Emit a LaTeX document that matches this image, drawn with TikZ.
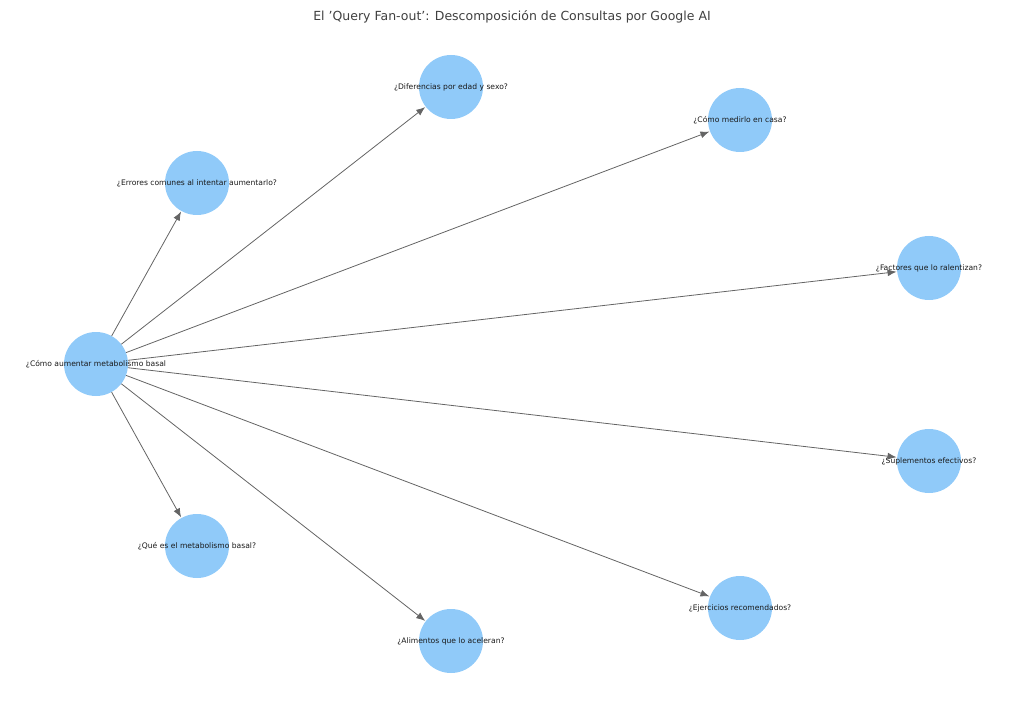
\documentclass[tikz,border=0pt]{standalone}
\usepackage{fontspec}
\setmainfont{DejaVu Sans}
\usetikzlibrary{arrows.meta}
\definecolor{lb}{RGB}{144,202,249}
\definecolor{eg}{RGB}{100,100,100}
\tikzset{q/.style={circle, fill=lb, minimum size=64pt, inner sep=0pt},
  lbl/.style={font=\fontsize{7.6}{9}\selectfont, text=black!90},
  edge/.style={draw=eg, line width=0.8pt, -{Latex[length=9pt,width=7pt]}, shorten >=0.5pt}}

\begin{document}
\begin{tikzpicture}[x=1pt,y=-1pt]
    \useasboundingbox (0,0) rectangle (1024,708);
    \node[font=\fontsize{12.5}{15}\selectfont, text=black!75] (title) at (512,17)
      {El 'Query Fan-out': Descomposición de Consultas por Google AI};

    \node[q, label={[lbl]center:¿Cómo aumentar metabolismo basal}] (root) at (96,364) {};
    \node[q, label={[lbl]center:¿Errores comunes al intentar aumentarlo?}] (q1) at (197,183) {};
    \node[q, label={[lbl]center:¿Diferencias por edad y sexo?}] (q2) at (451,87) {};
    \node[q, label={[lbl]center:¿Cómo medirlo en casa?}] (q3) at (740,120) {};
    \node[q, label={[lbl]center:¿Factores que lo ralentizan?}] (q4) at (929,268) {};
    \node[q, label={[lbl]center:¿Suplementos efectivos?}] (q5) at (929,461) {};
    \node[q, label={[lbl]center:¿Ejercicios recomendados?}] (q6) at (740,608) {};
    \node[q, label={[lbl]center:¿Alimentos que lo aceleran?}] (q7) at (451,641) {};
    \node[q, label={[lbl]center:¿Qué es el metabolismo basal?}] (q8) at (197,546) {};

    \foreach \n in {q1,q2,q3,q4,q5,q6,q7,q8}
      \draw[edge] (root) -- (\n);
\end{tikzpicture}
\end{document}
